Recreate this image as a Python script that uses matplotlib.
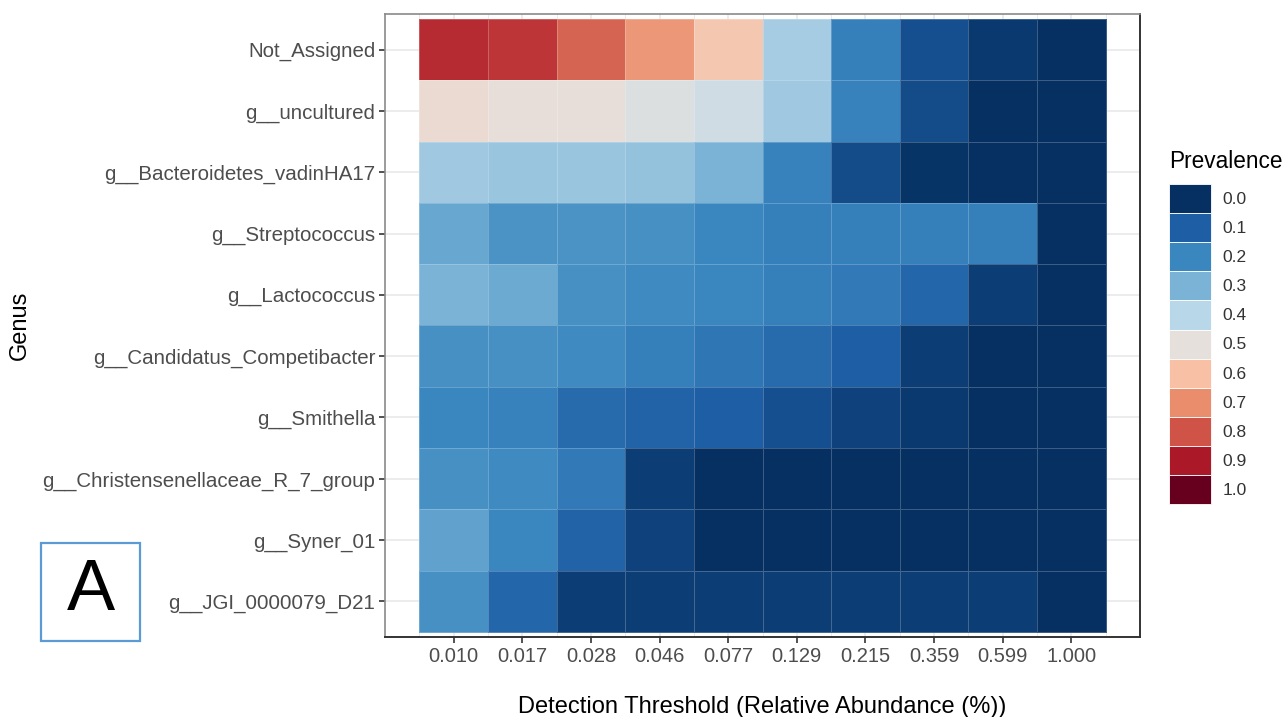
import numpy as np
import matplotlib.pyplot as plt
from matplotlib.colors import LinearSegmentedColormap
from matplotlib.patches import Patch, Rectangle

plt.rcParams['font.family'] = ['Liberation Sans', 'DejaVu Sans']

thresholds = ['0.010', '0.017', '0.028', '0.046', '0.077', '0.129', '0.215', '0.359', '0.599', '1.000']
genera = ['Not_Assigned', 'g__uncultured', 'g__Bacteroidetes_vadinHA17', 'g__Streptococcus',
          'g__Lactococcus', 'g__Candidatus_Competibacter', 'g__Smithella',
          'g__Christensenellaceae_R_7_group', 'g__Syner_01', 'g__JGI_0000079_D21']

# prevalence of each genus at each detection threshold
not_assigned = [0.87, 0.85, 0.77, 0.68, 0.58, 0.37, 0.18, 0.07, 0.02, 0.0]
uncultured = [0.52, 0.51, 0.51, 0.48, 0.45, 0.36, 0.19, 0.06, 0.0, 0.0]
bacteroidetes = [0.36, 0.35, 0.35, 0.34, 0.30, 0.19, 0.06, 0.01, 0.0, 0.0]
streptococcus = [0.27, 0.23, 0.23, 0.22, 0.20, 0.18, 0.18, 0.18, 0.18, 0.0]
lactococcus = [0.30, 0.28, 0.22, 0.21, 0.20, 0.18, 0.17, 0.12, 0.03, 0.0]
competibacter = [0.22, 0.22, 0.21, 0.18, 0.16, 0.13, 0.10, 0.03, 0.0, 0.0]
smithella = [0.20, 0.19, 0.13, 0.11, 0.10, 0.07, 0.04, 0.02, 0.0, 0.0]
christensenellaceae = [0.22, 0.21, 0.17, 0.03, 0.0, 0.0, 0.0, 0.0, 0.0, 0.0]
syner = [0.26, 0.20, 0.11, 0.04, 0.0, 0.0, 0.0, 0.0, 0.0, 0.0]
jgi = [0.22, 0.12, 0.03, 0.03, 0.03, 0.03, 0.03, 0.03, 0.03, 0.0]

prev = np.array([not_assigned, uncultured, bacteroidetes, streptococcus, lactococcus,
                 competibacter, smithella, christensenellaceae, syner, jgi])

legend_levels = [0.0, 0.1, 0.2, 0.3, 0.4, 0.5, 0.6, 0.7, 0.8, 0.9, 1.0]
palette = ['#053061', '#1f5fa6', '#3a87bf', '#7bb4d6', '#b8d7e8', '#e6e1de',
           '#f8c1a6', '#ea8e6e', '#cf5447', '#ac1828', '#67001f']
cmap = LinearSegmentedColormap.from_list('prev', list(zip(legend_levels, palette)))

W, H = 1285, 717
fig = plt.figure(figsize=(W/100, H/100), dpi=100)
ax = fig.add_axes([385/W, (H-637)/H, (1140-385)/W, (637-14)/H])

nx, ny = len(thresholds), len(genera)
xe = np.arange(nx+1) + 0.5
ye = np.arange(ny+1) + 0.5
ax.pcolormesh(xe, ye, prev, cmap=cmap, vmin=0, vmax=1,
              edgecolors=(1, 1, 1, 0.22), linewidth=0.7, zorder=2)

ax.set_xlim(0, nx+1)
ax.set_ylim(ny+0.58, 0.42)

ax.set_xticks(np.arange(1, nx+1))
ax.set_xticklabels(thresholds)
ax.set_xticks(np.arange(0.5, nx+1, 1), minor=True)
ax.set_yticks(np.arange(1, ny+1))
ax.set_yticklabels(genera)

ax.set_axisbelow(True)
ax.grid(True, which='major', color='#ebebeb', lw=1.3, zorder=0)
ax.grid(True, which='minor', axis='x', color='#ebebeb', lw=0.7, zorder=0)
ax.tick_params(which='minor', length=0)
ax.tick_params(which='major', length=4, width=1.2, color='#333333',
               labelsize=14.5, labelcolor='#4d4d4d', pad=3)
ax.tick_params(axis='y', labelsize=14.8)

for s in ['bottom', 'right']:
    ax.spines[s].set_color('#333333')
    ax.spines[s].set_linewidth(1.4)
for s in ['top', 'left']:
    ax.spines[s].set_color('#8a8a8a')
    ax.spines[s].set_linewidth(1.2)

ax.set_xlabel('Detection Threshold (Relative Abundance (%))', fontsize=17, labelpad=22)
fig.text(20/W, 1-325/H, 'Genus', rotation=90, fontsize=17, ha='center', va='center')

handles = [Patch(facecolor=cmap(v), edgecolor='white', linewidth=0.6) for v in legend_levels]
leg = fig.legend(handles, ['%.1f' % v for v in legend_levels], title='Prevalence',
                 loc='upper left', bbox_to_anchor=(1169/W, 1-150/H), frameon=False,
                 fontsize=12.5, title_fontsize=16.3, handlelength=2.4, handleheight=2.2,
                 labelspacing=0, handletextpad=0.7, borderpad=0, borderaxespad=0,
                 alignment='left')
leg._legend_box.sep = 8
for t in leg.get_texts():
    t.set_color('#333333')

fig.patches.append(Rectangle((41/W, (H-641)/H), 99/W, 98/H, transform=fig.transFigure,
                             facecolor='none', edgecolor='#5b9bd5', lw=1.6))
fig.text(90.5/W, 1-592/H, 'A', fontsize=52, ha='center', va='center')

fig.savefig('out.png', dpi=100)
